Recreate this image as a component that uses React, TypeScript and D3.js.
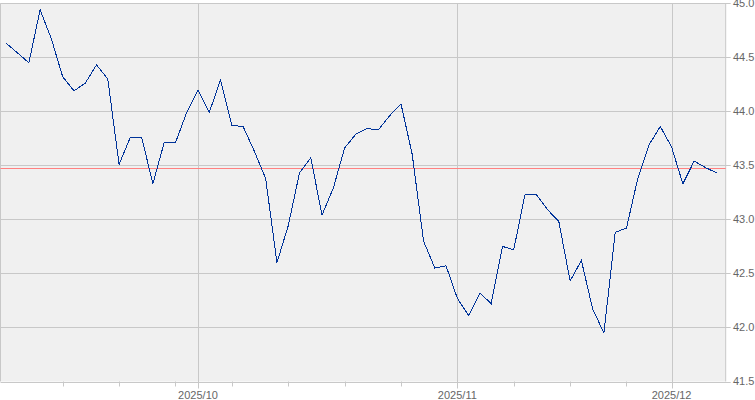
import React from "react";
import * as d3 from "d3";

// Trading days Sep 8 2025 .. Dec 5 2025 (index-based x)
const values: number[] = [
  44.63, 44.54, 44.45, 44.94, 44.67, 44.32, 44.19, 44.26, 44.43, 44.3,
  43.51, 43.76, 43.76, 43.33, 43.71, 43.71, 43.99, 44.2, 43.99, 44.29,
  43.87, 43.86, 43.63, 43.38, 42.6, 42.94, 43.43, 43.57, 43.04, 43.29,
  43.66, 43.79, 43.84, 43.83, 43.96, 44.07, 43.6, 42.8, 42.55, 42.57,
  42.27, 42.11, 42.32, 42.22, 42.75, 42.72, 43.23, 43.23, 43.09, 42.98,
  42.43, 42.62, 42.17, 41.95, 42.88, 42.92, 43.38, 43.69, 43.86, 43.67,
  43.33, 43.54, 43.48, 43.43,
];
const refValue = 43.48;
const yTicks: number[] = [41.5, 42.0, 42.5, 43.0, 43.5, 44.0, 44.5, 45.0];
const monthIdx: number[] = [17, 40, 59];
const monthLabels: string[] = ["2025/10", "2025/11", "2025/12"];
const weekIdx: number[] = [5, 10, 15, 20, 25, 30, 35, 45, 50, 55];

export default function App() {
  const W = 755, H = 400;
  const left = 0.5, right = 725.7, top = 3.3, bottom = 381.5;
  const x = d3.scaleLinear().domain([0, 63]).range([6.3, 716.7]);
  const y = d3.scaleLinear().domain([41.5, 45]).range([bottom, top]);
  const line = d3
    .line<number>()
    .x((_, i) => x(i))
    .y((d) => y(d));
  const grid = "#c8c8c8";
  const txt = "#666666";
  return (
    <svg
      width={W}
      height={H}
      style={{ position: "absolute", left: 0, top: 0, background: "#fff" }}
    >
      <rect x={left} y={top} width={right - left} height={bottom - top} fill="#f0f0f0" />
      {yTicks.map((t) => (
        <line key={"g" + t} x1={left} x2={right + 5} y1={Math.round(y(t)) + 0.5} y2={Math.round(y(t)) + 0.5} stroke={grid} />
      ))}
      {monthIdx.map((m) => (
        <line key={"m" + m} x1={Math.round(x(m)) + 0.5} x2={Math.round(x(m)) + 0.5} y1={top} y2={bottom + 7} stroke={grid} />
      ))}
      {weekIdx.map((w) => (
        <line key={"w" + w} x1={Math.round(x(w)) + 0.5} x2={Math.round(x(w)) + 0.5} y1={bottom} y2={bottom + 5} stroke={grid} />
      ))}
      <line x1={left} x2={left} y1={top} y2={bottom} stroke={grid} />
      <line x1={right} x2={right} y1={top} y2={bottom} stroke={grid} />
      <line
        x1={left}
        x2={right}
        y1={Math.round(y(refValue)) + 0.5}
        y2={Math.round(y(refValue)) + 0.5}
        stroke="#ff8080"
      />
      <path
        d={line(values) || ""}
        fill="none"
        stroke="#003399"
        strokeWidth={1}
        shapeRendering="crispEdges"
      />
      {yTicks.map((t) => (
        <text
          key={"t" + t}
          x={733}
          y={y(t)}
          dy="0.35em"
          fontFamily="'Liberation Sans', Arial, sans-serif"
          fontSize={11}
          fill={txt}
        >
          {t.toFixed(1)}
        </text>
      ))}
      {monthIdx.map((m, i) => (
        <text
          key={"ml" + m}
          x={x(m)}
          y={399}
          textAnchor="middle"
          fontFamily="'Liberation Sans', Arial, sans-serif"
          fontSize={11}
          fill={txt}
        >
          {monthLabels[i]}
        </text>
      ))}
    </svg>
  );
}
